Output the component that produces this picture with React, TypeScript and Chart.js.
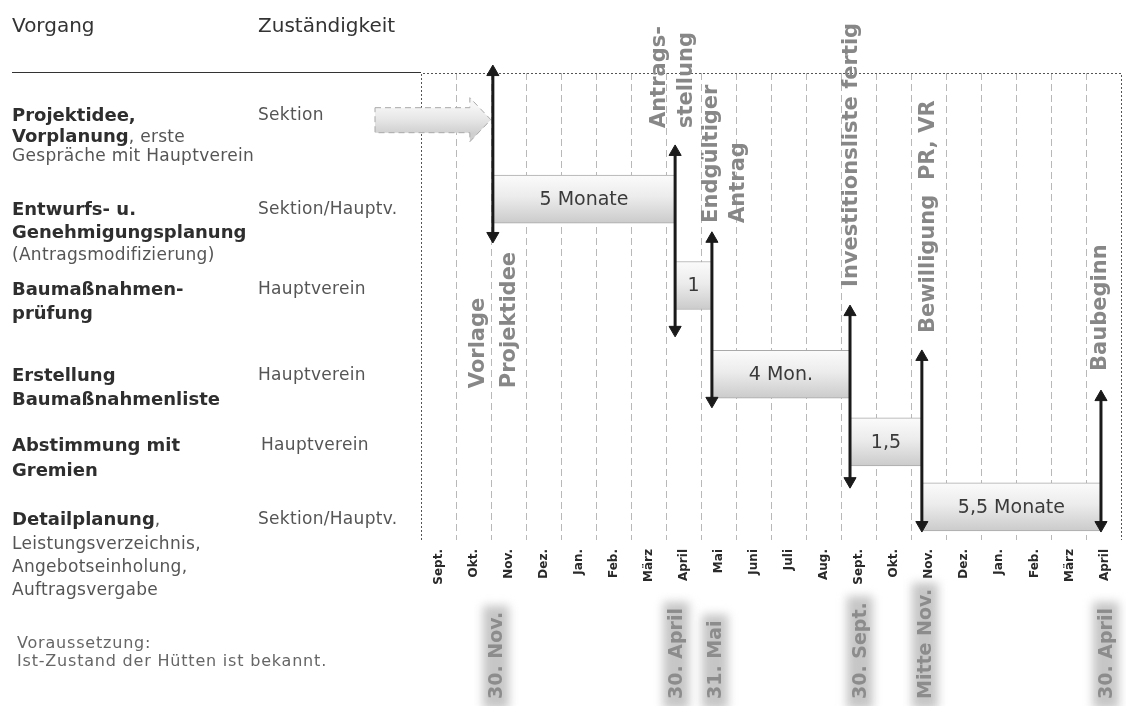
import React, { useEffect, useRef } from 'react';
import { Chart, registerables } from 'chart.js';

Chart.register(...registerables);

// ---------- data ----------
const monthLabels = ['Sept.', 'Okt.', 'Nov.', 'Dez.', 'Jan.', 'Feb.', 'März', 'April', 'Mai', 'Juni', 'Juli', 'Aug.', 'Sept.', 'Okt.', 'Nov.', 'Dez.', 'Jan.', 'Feb.', 'März', 'April'];

// tasks (x in month units from start of Sept., row on the vertical 0..10 axis)
const taskLabels = ['5 Monate', '1', '4 Mon.', '1,5', '5,5 Monate'];
const taskRow = [2.7, 4.55, 6.45, 7.9, 9.29];
const taskStart = [2.05, 7.25, 8.3, 12.24, 14.29];
const taskEnd = [7.25, 8.3, 12.24, 14.29, 19.4];

// milestones (double arrows)
const milestoneX = [2.05, 7.25, 8.3, 12.24, 14.29, 19.4];
const milestoneTop = [-0.02, 1.69, 3.55, 5.12, 6.08, 6.94];
const milestoneBottom = [3.49, 5.5, 7.02, 8.74, 9.68, 9.68];
const milestoneNames = [['Vorlage', 'Projektidee'], ['Antrags-', 'stellung'], ['Endgültiger', 'Antrag'], ['Investitionsliste fertig'], ['Bewilligung  PR, VR'], ['Baubeginn']];
const milestoneDates = ['30. Nov.', '30. April', '31. Mai', '30. Sept.', 'Mitte Nov.', '30. April'];

// ---------- layout of annotation texts (in axis units) ----------
const NAME_LINE_X = [[1.63, 2.54], [6.82, 7.59], [8.3, 9.07], [12.27], [14.47], [19.4]];
const NAME_START_Y = [6.75, 1.18, 3.21, 4.58, 5.57, 6.38];
const DATE_X = [2.14, 7.28, 8.39, 12.52, 14.38, 19.54];
const FONT = '"DejaVu Sans", Verdana, sans-serif';

const decorPlugin = {
  id: 'decor',
  beforeDatasetsDraw(chart: any) {
    const { ctx, chartArea: a, scales } = chart;
    const xs = scales.x;
    const ys = scales.y;
    ctx.save();
    // dotted frame
    ctx.strokeStyle = '#555';
    ctx.lineWidth = 1;
    ctx.setLineDash([2, 2]);
    ctx.beginPath();
    ctx.moveTo(a.left + 0.5, a.bottom);
    ctx.lineTo(a.left + 0.5, a.top + 0.5);
    ctx.lineTo(a.right - 0.5, a.top + 0.5);
    ctx.lineTo(a.right - 0.5, a.bottom);
    ctx.stroke();
    ctx.setLineDash([]);
    // solid separator under the header
    ctx.strokeStyle = '#333';
    ctx.beginPath();
    ctx.moveTo(12, a.top - 0.5);
    ctx.lineTo(a.left, a.top - 0.5);
    ctx.stroke();
    // gray dashed block arrow pointing at the first milestone
    const tip = xs.getPixelForValue(milestoneX[0]) - 2;
    const mid = ys.getPixelForValue(1.0);
    const left = 375;
    const headBase = tip - 21;
    ctx.beginPath();
    ctx.moveTo(left, mid - 12);
    ctx.lineTo(headBase, mid - 12);
    ctx.lineTo(headBase, mid - 22);
    ctx.lineTo(tip, mid);
    ctx.lineTo(headBase, mid + 22);
    ctx.lineTo(headBase, mid + 13);
    ctx.lineTo(left, mid + 13);
    ctx.closePath();
    const g = ctx.createLinearGradient(0, mid - 14, 0, mid + 14);
    g.addColorStop(0, '#f6f6f6');
    g.addColorStop(0.5, '#e6e6e6');
    g.addColorStop(1, '#cfcfcf');
    ctx.fillStyle = g;
    ctx.fill();
    ctx.strokeStyle = '#a8a8a8';
    ctx.setLineDash([6, 4]);
    ctx.stroke();
    ctx.restore();
  },
  afterDatasetsDraw(chart: any) {
    const { ctx } = chart;
    const meta = chart.getDatasetMeta(0);
    ctx.save();
    ctx.font = `19px ${FONT}`;
    ctx.fillStyle = '#3a3a3a';
    ctx.textAlign = 'center';
    ctx.textBaseline = 'middle';
    meta.data.forEach((el: any, i: number) => {
      const p = el.getProps(['x', 'base', 'y'], true);
      ctx.fillText(taskLabels[i], (p.x + p.base) / 2, p.y + 1);
    });
    ctx.restore();
  },
  afterDraw(chart: any) {
    const { ctx, scales } = chart;
    const xs = scales.x;
    const ys = scales.y;
    ctx.save();
    // milestone names, rotated
    ctx.font = `bold 21px ${FONT}`;
    ctx.fillStyle = '#878787';
    ctx.textAlign = 'left';
    ctx.textBaseline = 'middle';
    milestoneNames.forEach((lines, i) => {
      const py = ys.getPixelForValue(NAME_START_Y[i]);
      lines.forEach((t, j) => {
        const px = xs.getPixelForValue(NAME_LINE_X[i][j]);
        ctx.save();
        ctx.translate(px, py);
        ctx.rotate(-Math.PI / 2);
        ctx.fillText(t, 0, 0);
        ctx.restore();
      });
    });
    // date labels with blurred halo
    ctx.font = `bold 19px ${FONT}`;
    milestoneDates.forEach((t, i) => {
      const px = xs.getPixelForValue(DATE_X[i]);
      const w = ctx.measureText(t).width;
      ctx.save();
      ctx.translate(px, 699);
      ctx.rotate(-Math.PI / 2);
      ctx.filter = 'blur(5px)';
      ctx.fillStyle = '#c6c6c6';
      ctx.fillRect(-10, -13, w + 16, 26);
      ctx.filter = 'none';
      ctx.fillStyle = '#8c8c8c';
      ctx.textBaseline = 'middle';
      ctx.fillText(t, 0, 1);
      ctx.restore();
    });
    ctx.restore();
  },
};

function GanttChart() {
  const ref = useRef<HTMLCanvasElement | null>(null);
  useEffect(() => {
    if (!ref.current) return;
    const barData = taskRow.map((r, i) => ({ x: [taskStart[i], taskEnd[i]], y: r }));
    const arrowSets = milestoneX.map((mx, i) => ({
      type: 'line' as const,
      data: [
        { x: mx, y: milestoneTop[i] },
        { x: mx, y: milestoneBottom[i] },
      ],
      xAxisID: 'x',
      yAxisID: 'y',
      borderColor: '#1a1a1a',
      borderWidth: 3,
      pointStyle: 'triangle',
      pointRadius: 7,
      pointRotation: [0, 180],
      pointBackgroundColor: '#1a1a1a',
      pointBorderColor: '#1a1a1a',
      pointBorderWidth: 1,
      clip: false as any,
      order: 0,
    }));
    const chart = new Chart(ref.current, {
      type: 'scatter',
      data: {
        datasets: [
          {
            type: 'bar',
            indexAxis: 'y',
            data: barData as any,
            xAxisID: 'x',
            yAxisID: 'y',
            barThickness: 48,
            borderSkipped: false,
            borderColor: '#a9a9a9',
            borderWidth: 1,
            backgroundColor: (c: any) => {
              const ys = c.chart.scales && c.chart.scales.y;
              if (c.type !== 'data' || !ys) return '#e4e4e4';
              const yc = ys.getPixelForValue(taskRow[c.dataIndex]);
              if (!Number.isFinite(yc)) return '#e4e4e4';
              const g = c.chart.ctx.createLinearGradient(0, yc - 24, 0, yc + 24);
              g.addColorStop(0, '#fbfbfb');
              g.addColorStop(0.45, '#ececec');
              g.addColorStop(1, '#cbcbcb');
              return g;
            },
            order: 1,
          } as any,
          ...(arrowSets as any[]),
        ],
      },
      options: {
        animation: false,
        responsive: false,
        events: [],
        layout: { padding: { left: 421, right: 4, top: 73, bottom: 116 }, autoPadding: false },
        plugins: {
          legend: { display: false },
          tooltip: { enabled: false },
        },
        scales: {
          x: {
            type: 'linear',
            min: 0,
            max: 20,
            offset: false,
            afterBuildTicks: (s: any) => {
              s.ticks = monthLabels.slice(1).map((_, i) => ({ value: i + 1 }));
            },
            ticks: { display: false },
            grid: { color: '#b8b8b8', lineWidth: 1, drawTicks: false, offset: false },
            border: { display: false, dash: [7, 4] },
            afterFit: (s: any) => {
              s.height = 0;
            },
          },
          x2: {
            type: 'linear',
            position: 'bottom',
            min: 0,
            max: 20,
            offset: false,
            afterBuildTicks: (s: any) => {
              s.ticks = monthLabels.map((_, i) => ({ value: i + 0.5 }));
            },
            ticks: {
              autoSkip: false,
              minRotation: 90,
              maxRotation: 90,
              padding: 1,
              color: '#2a2a2a',
              font: { family: FONT, size: 12, weight: 'bold' },
              callback: (_v: any, i: number) => monthLabels[i] ?? '',
            },
            grid: { display: false, offset: false },
            border: { display: false },
            afterFit: (s: any) => {
              s.height = 50;
            },
          },
          y: {
            type: 'linear',
            min: 0,
            max: 10,
            reverse: true,
            offset: false,
            grid: { offset: false },
            display: false,
          },
        },
      } as any,
      plugins: [decorPlugin],
    });
    chart.update();
    return () => chart.destroy();
  }, []);
  return <canvas ref={ref} width={1126} height={706} style={{ position: 'absolute', left: 0, top: 0, width: 1126, height: 706 }} />;
}

type Part = { t: string; b?: boolean };
const boldStyle: React.CSSProperties = { fontWeight: 700, fontSize: 18, color: '#2e2e2e' };
const regStyle: React.CSSProperties = { fontWeight: 400, fontSize: 17, color: '#555', letterSpacing: 0.3 };

const leftLines: { top: number; parts: Part[] }[] = [
  { top: 108, parts: [{ t: 'Projektidee,', b: true }] },
  { top: 129, parts: [{ t: 'Vorplanung', b: true }, { t: ', erste' }] },
  { top: 149, parts: [{ t: 'Gespräche mit Hauptverein' }] },
  { top: 202, parts: [{ t: 'Entwurfs- u.', b: true }] },
  { top: 225, parts: [{ t: 'Genehmigungsplanung', b: true }] },
  { top: 248, parts: [{ t: '(Antragsmodifizierung)' }] },
  { top: 282, parts: [{ t: 'Baumaßnahmen-', b: true }] },
  { top: 306, parts: [{ t: 'prüfung', b: true }] },
  { top: 368, parts: [{ t: 'Erstellung', b: true }] },
  { top: 392, parts: [{ t: 'Baumaßnahmenliste', b: true }] },
  { top: 438, parts: [{ t: 'Abstimmung mit', b: true }] },
  { top: 463, parts: [{ t: 'Gremien', b: true }] },
  { top: 512, parts: [{ t: 'Detailplanung', b: true }, { t: ',' }] },
  { top: 537, parts: [{ t: 'Leistungsverzeichnis,' }] },
  { top: 560, parts: [{ t: 'Angebotseinholung,' }] },
  { top: 583, parts: [{ t: 'Auftragsvergabe' }] },
];

const rightLines: { top: number; left: number; t: string }[] = [
  { top: 108, left: 258, t: 'Sektion' },
  { top: 202, left: 258, t: 'Sektion/Hauptv.' },
  { top: 282, left: 258, t: 'Hauptverein' },
  { top: 368, left: 258, t: 'Hauptverein' },
  { top: 438, left: 261, t: 'Hauptverein' },
  { top: 512, left: 258, t: 'Sektion/Hauptv.' },
];

export default function App() {
  const base: React.CSSProperties = { position: 'absolute', whiteSpace: 'nowrap', lineHeight: 1, fontFamily: FONT };
  return (
    <div style={{ position: 'absolute', left: 0, top: 0, width: 1126, height: 706, background: '#fff', overflow: 'hidden' }}>
      <GanttChart />
      <div style={{ ...base, top: 15, left: 12, fontSize: 20, color: '#333' }}>Vorgang</div>
      <div style={{ ...base, top: 15, left: 258, fontSize: 20, color: '#333' }}>Zuständigkeit</div>
      {leftLines.map((l, i) => (
        <div key={i} style={{ ...base, top: l.top - 2, left: 12 }}>
          {l.parts.map((p, j) => (
            <span key={j} style={p.b ? boldStyle : regStyle}>{p.t}</span>
          ))}
        </div>
      ))}
      {rightLines.map((l, i) => (
        <div key={'r' + i} style={{ ...base, ...regStyle, top: l.top - 2, left: l.left }}>{l.t}</div>
      ))}
      <div style={{ ...base, top: 635, left: 17, fontSize: 16, color: '#666', letterSpacing: 0.8 }}>Voraussetzung:</div>
      <div style={{ ...base, top: 653, left: 17, fontSize: 16, color: '#666', letterSpacing: 0.8 }}>Ist-Zustand der Hütten ist bekannt.</div>
    </div>
  );
}
